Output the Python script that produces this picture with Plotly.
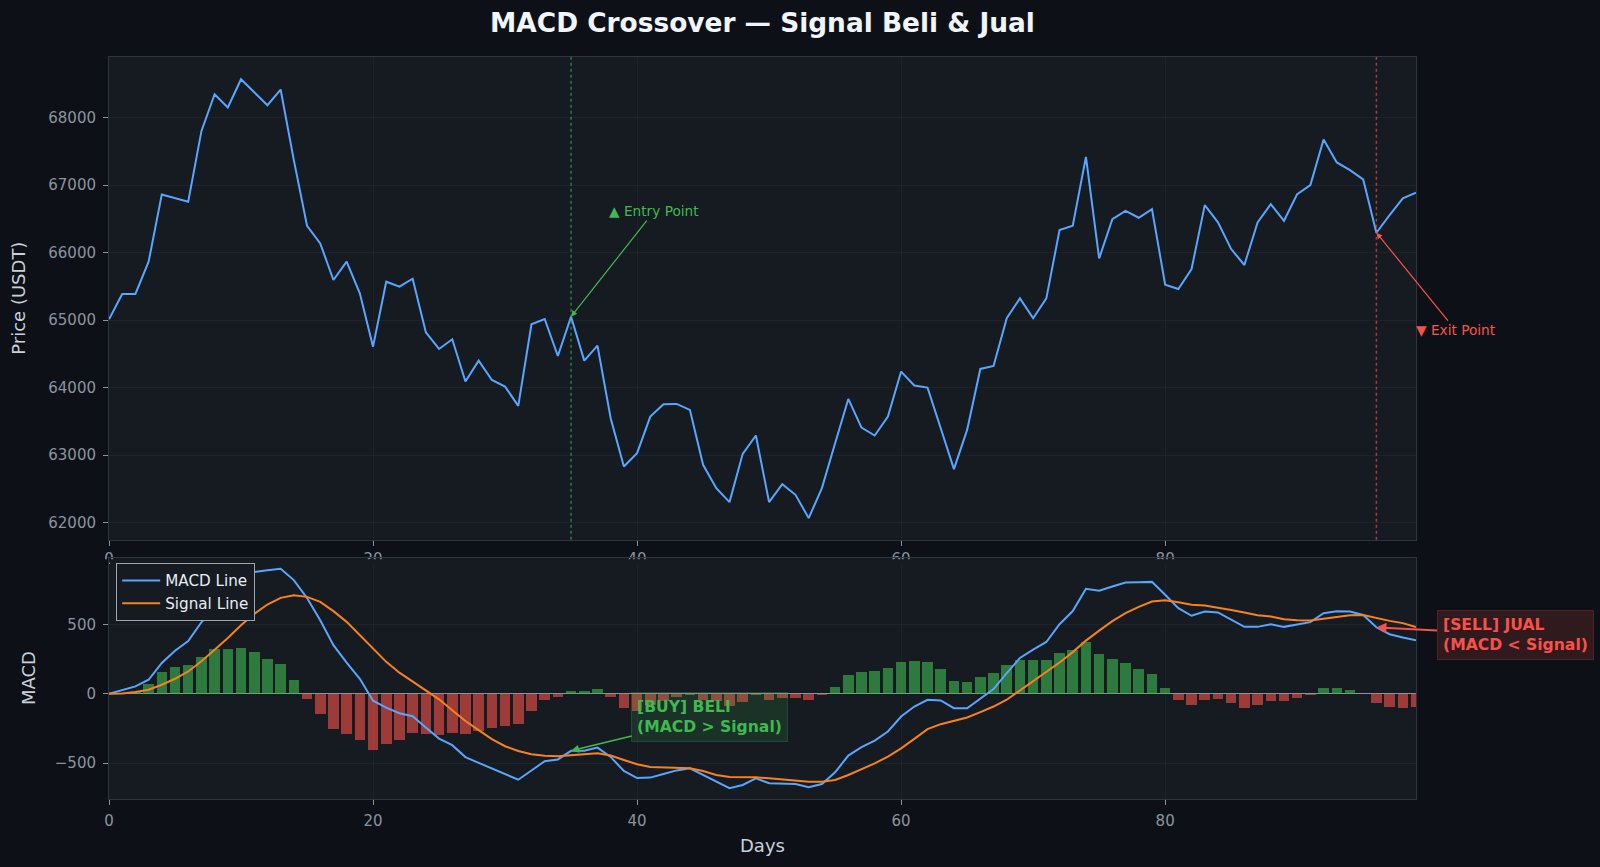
import plotly.graph_objects as go

# ---------------- data ----------------
days = list(range(100))

price = [65012, 65387, 65387, 65865, 66861, 66802, 66752, 67798, 68345, 68148,
         68567, 68375, 68182, 68414, 67369, 66397, 66136, 65594, 65865, 65396,
         64607, 65569, 65495, 65613, 64819, 64573, 64716, 64090, 64400, 64114,
         64016, 63730, 64938, 65017, 64469, 65051, 64400, 64622, 63547, 62832,
         63030, 63572, 63754, 63759, 63671, 62857, 62512, 62305, 63020, 63291,
         62305, 62571, 62413, 62068, 62512, 63178, 63833, 63409, 63291, 63572,
         64238, 64031, 64001, 63399, 62793, 63375, 64277, 64321, 65027, 65322,
         65027, 65322, 66333, 66397, 67418, 65914, 66496, 66619, 66516, 66644,
         65525, 65461, 65756, 66703, 66447, 66052, 65816, 66447, 66718, 66471,
         66866, 66999, 67675, 67334, 67221, 67083, 66294, 66555, 66802, 66886]

macd = [0, 29, 53, 101, 222, 310, 380, 515, 630, 740,
        840, 877, 889, 901, 819, 690, 530, 350, 225, 108,
        -50, -100, -140, -162, -243, -323, -370, -456, -498, -540,
        -578, -619, -553, -486, -473, -411, -410, -388, -455, -556,
        -607, -604, -578, -552, -537, -585, -633, -680, -657, -609,
        -645, -645, -650, -674, -650, -566, -445, -385, -337, -272,
        -164, -92, -43, -48, -104, -104, -36, 34, 149, 258,
        318, 373, 501, 596, 756, 742, 773, 802, 804, 806,
        713, 617, 562, 593, 586, 537, 482, 482, 501, 482,
        499, 516, 580, 595, 592, 568, 479, 429, 405, 385]

signal = [0, 2, 12, 29, 65, 108, 161, 234, 318, 402,
          494, 576, 643, 691, 710, 698, 662, 595, 518, 421,
          322, 230, 152, 88, 30, -40, -118, -196, -262, -326,
          -378, -412, -435, -446, -450, -445, -436, -429, -445, -477,
          -508, -527, -532, -537, -537, -556, -585, -600, -600, -602,
          -609, -616, -623, -633, -633, -621, -585, -544, -501, -453,
          -393, -325, -255, -219, -195, -171, -132, -92, -43, 24,
          89, 161, 225, 300, 383, 455, 523, 581, 626, 664,
          674, 660, 642, 636, 622, 604, 586, 566, 556, 537,
          530, 528, 541, 556, 566, 568, 546, 525, 509, 481]

hist = [0, 5, 12, 72, 154, 195, 207, 265, 323, 323,
        332, 303, 253, 212, 101, -39, -147, -253, -291, -335,
        -405, -364, -330, -282, -292, -296, -279, -291, -265, -243,
        -229, -217, -123, -48, -24, 22, 17, 31, -22, -100,
        -124, -80, -50, -20, -8, -43, -55, -90, -60, -7,
        -43, -31, -31, -43, -12, 48, 135, 157, 164, 183,
        226, 234, 226, 176, 94, 82, 123, 152, 205, 246,
        241, 241, 294, 313, 373, 287, 250, 221, 178, 142,
        39, -43, -80, -43, -36, -67, -104, -84, -55, -55,
        -31, -12, 39, 39, 26, 0, -67, -96, -104, -96]

entry_day = 35
exit_day = 96

price_ticks = [62000, 63000, 64000, 65000, 66000, 67000, 68000]
macd_ticks = [-500, 0, 500]
day_ticks = [0, 20, 40, 60, 80]

# ---------------- styling ----------------
FIG_BG = '#0d1117'
AX_BG = '#161b22'
SPINE = '#30363d'
TICK_C = '#8b949e'
LABEL_C = '#c9d1d9'
GRID_C = 'rgba(139,148,158,0.07)'
BLUE = '#58a6ff'
ORANGE = '#f7821e'
GREEN = '#3fb950'
RED = '#f85149'
FONT = 'DejaVu Sans'

bar_colors = ['rgba(63,185,80,0.6)' if v >= 0 else 'rgba(248,81,73,0.6)' for v in hist]

fig = go.Figure()

fig.add_trace(go.Scatter(x=days, y=price, mode='lines', line=dict(color=BLUE, width=2),
                         showlegend=False, xaxis='x', yaxis='y', hoverinfo='skip'))
fig.add_trace(go.Bar(x=days, y=hist, marker=dict(color=bar_colors, line=dict(width=0)),
                     width=0.8, showlegend=False, xaxis='x2', yaxis='y2', hoverinfo='skip'))
fig.add_trace(go.Scatter(x=days, y=macd, mode='lines', name='MACD Line',
                         line=dict(color=BLUE, width=2), xaxis='x2', yaxis='y2'))
fig.add_trace(go.Scatter(x=days, y=signal, mode='lines', name='Signal Line',
                         line=dict(color=ORANGE, width=2), xaxis='x2', yaxis='y2'))

axis_common = dict(showline=True, mirror=True, linecolor=SPINE, linewidth=1,
                   ticks='outside', ticklen=5, tickwidth=1, tickcolor=TICK_C,
                   tickfont=dict(family=FONT, size=15, color=TICK_C),
                   showgrid=True, gridcolor=GRID_C, gridwidth=1)

top_dom = [0.3495, 1.0]
bot_dom = [0.0, 0.3248]

fig.update_layout(
    width=1600, height=867,
    paper_bgcolor=FIG_BG, plot_bgcolor=AX_BG,
    margin=dict(l=109, r=184, t=57, b=68),
    font=dict(family=FONT, color=LABEL_C),
    xaxis=dict(domain=[0, 1], anchor='y', range=[0, 99], tickvals=day_ticks, zeroline=False,
               ticklabelstandoff=0, **axis_common),
    yaxis=dict(domain=top_dom, anchor='x', range=[61749, 68896], tickvals=price_ticks,
               tickformat='d', zeroline=False, ticklabelstandoff=4, **axis_common),
    xaxis2=dict(domain=[0, 1], anchor='y2', range=[0, 99], tickvals=day_ticks, zeroline=False,
                ticklabelstandoff=3, **axis_common),
    yaxis2=dict(domain=bot_dom, anchor='x2', range=[-758, 978], tickvals=macd_ticks,
                zeroline=True, zerolinecolor=TICK_C, zerolinewidth=1.3, ticklabelstandoff=4,
                **axis_common),
    title=dict(text='<b>MACD Crossover — Signal Beli & Jual</b>', x=0.5, xref='paper', xanchor='center',
               y=1 - 22.5 / 867, yref='container', yanchor='middle',
               font=dict(family=FONT, size=26.4, color='#f0f6fc')),
    legend=dict(x=0.0055, y=0.318, xanchor='left', yanchor='top', bgcolor=AX_BG,
                bordercolor='#9da5ae', borderwidth=1,
                font=dict(family=FONT, size=15.2, color='#e6edf3'), itemwidth=38),
    showlegend=True,
    bargap=0,
)

shapes = [
    dict(type='line', xref='x', yref='y domain', x0=entry_day, x1=entry_day, y0=0, y1=1,
         line=dict(color='rgba(63,185,80,0.6)', width=1.5, dash='dot')),
    dict(type='line', xref='x', yref='y domain', x0=exit_day, x1=exit_day, y0=0, y1=1,
         line=dict(color='rgba(248,81,73,0.65)', width=1.5, dash='dot')),
    # the MACD panel is drawn over the lower half of the price-panel tick labels
    dict(type='rect', xref='paper', yref='y2 domain', x0=0.0008, x1=0.9992,
         y0=1 - 8 / 241, y1=1 - 1.2 / 241, fillcolor=AX_BG, line=dict(width=0), layer='above'),
    dict(type='rect', xref='paper', yref='y2 domain', x0=-0.012, x1=-0.0006,
         y0=1 - 8 / 241, y1=1 - 1.2 / 241, fillcolor=FIG_BG, line=dict(width=0), layer='above'),
]
fig.update_layout(shapes=shapes)

annotations = [
    dict(text='▲ Entry Point', x=entry_day, y=price[entry_day], xref='x', yref='y',
         ax=41.3, ay=66614, axref='x', ayref='y', showarrow=True, arrowhead=2, arrowsize=1,
         arrowwidth=1.2, arrowcolor=GREEN, font=dict(family=FONT, size=13.7, color=GREEN)),
    dict(text='▼ Exit Point', x=exit_day, y=price[exit_day], xref='x', yref='y',
         ax=102.0, ay=64853, axref='x', ayref='y', showarrow=True, arrowhead=2, arrowsize=1,
         arrowwidth=1.2, arrowcolor=RED, font=dict(family=FONT, size=13.7, color=RED)),
    dict(text='<b>[BUY] BELI<br>(MACD &gt; Signal)</b>', x=entry_day, y=macd[entry_day], xref='x2', yref='y2',
         ax=45.5, ay=-166, axref='x2', ayref='y2', showarrow=True, arrowhead=2, arrowsize=1,
         arrowwidth=1.6, arrowcolor=GREEN, align='left', bgcolor='rgba(63,185,80,0.15)',
         bordercolor='rgba(63,185,80,0.25)', borderwidth=1, borderpad=5,
         font=dict(family=FONT, size=15.6, color=GREEN)),
    dict(text='<b>[SELL] JUAL<br>(MACD &lt; Signal)</b>', x=exit_day, y=macd[exit_day], xref='x2', yref='y2',
         ax=106.5, ay=426, axref='x2', ayref='y2', showarrow=True, arrowhead=2, arrowsize=1,
         arrowwidth=2, arrowcolor=RED, align='left', bgcolor='rgba(248,81,73,0.15)',
         bordercolor='rgba(248,81,73,0.25)', borderwidth=1, borderpad=5,
         font=dict(family=FONT, size=15.6, color=RED)),
    # axis titles
    dict(text='Price (USDT)', x=(18.4 - 109) / 1307, y=sum(top_dom) / 2, xref='paper', yref='paper',
         showarrow=False, textangle=-90, xanchor='center', yanchor='middle',
         font=dict(family=FONT, size=18, color=LABEL_C)),
    dict(text='MACD', x=(28.6 - 109) / 1307, y=sum(bot_dom) / 2, xref='paper', yref='paper',
         showarrow=False, textangle=-90, xanchor='center', yanchor='middle',
         font=dict(family=FONT, size=18, color=LABEL_C)),
    dict(text='Days', x=0.5, y=-(845 - 799) / 742, xref='paper', yref='paper',
         showarrow=False, xanchor='center', yanchor='middle',
         font=dict(family=FONT, size=18, color=LABEL_C)),
]
fig.update_layout(annotations=annotations)

fig.write_html('out.html', config={'displayModeBar': False})
